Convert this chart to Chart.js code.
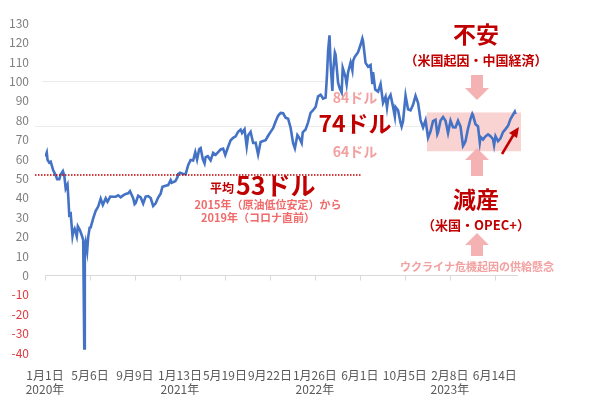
<!DOCTYPE html>
<html>
<head>
<meta charset="utf-8">
<script src="https://cdn.jsdelivr.net/npm/chart.js@4"></script>
<style>
  html, body { margin: 0; padding: 0; background: #fff; }
  #wrap { width: 600px; height: 395px; }
</style>
</head>
<body>
<div id="wrap"><canvas id="graph" width="600" height="395"></canvas></div>
<script>
// WTI原油先物（ドル/バレル）
const dates = [
  '2020-01-02','2020-01-06','2020-01-08','2020-01-13','2020-01-17','2020-01-24','2020-01-31','2020-02-04','2020-02-10','2020-02-14',
  '2020-02-20','2020-02-24','2020-02-28','2020-03-04','2020-03-06','2020-03-09','2020-03-13','2020-03-18','2020-03-20','2020-03-24',
  '2020-03-30','2020-04-02','2020-04-07','2020-04-09','2020-04-14','2020-04-17','2020-04-20','2020-04-21','2020-04-22','2020-04-24',
  '2020-04-28','2020-05-01','2020-05-05','2020-05-08','2020-05-15','2020-05-22','2020-05-29','2020-06-05','2020-06-11','2020-06-19',
  '2020-06-24','2020-07-02','2020-07-10','2020-07-17','2020-07-24','2020-07-31','2020-08-07','2020-08-14','2020-08-21','2020-08-26',
  '2020-09-04','2020-09-08','2020-09-11','2020-09-18','2020-09-25','2020-10-02','2020-10-09','2020-10-16','2020-10-23','2020-10-30',
  '2020-11-06','2020-11-13','2020-11-20','2020-11-25','2020-12-04','2020-12-11','2020-12-18','2020-12-21','2020-12-31',
  '2021-01-06','2021-01-08','2021-01-13','2021-01-22','2021-01-29','2021-02-05','2021-02-12','2021-02-19','2021-02-25','2021-03-02',
  '2021-03-08','2021-03-12','2021-03-18','2021-03-23','2021-03-26','2021-04-01','2021-04-09','2021-04-16','2021-04-23','2021-04-30',
  '2021-05-07','2021-05-14','2021-05-20','2021-05-28','2021-06-04','2021-06-11','2021-06-18','2021-06-25','2021-07-02','2021-07-06',
  '2021-07-13','2021-07-19','2021-07-23','2021-07-30','2021-08-06','2021-08-13','2021-08-20','2021-08-27','2021-09-03','2021-09-10',
  '2021-09-17','2021-09-24','2021-10-01','2021-10-08','2021-10-15','2021-10-22','2021-10-29','2021-11-05','2021-11-12','2021-11-19',
  '2021-11-26','2021-12-01','2021-12-08','2021-12-14','2021-12-20','2021-12-23','2021-12-31',
  '2022-01-07','2022-01-14','2022-01-21','2022-01-28','2022-02-04','2022-02-11','2022-02-15','2022-02-18','2022-02-25','2022-03-01',
  '2022-03-04','2022-03-08','2022-03-11','2022-03-16','2022-03-18','2022-03-23','2022-03-25','2022-04-01','2022-04-06','2022-04-11',
  '2022-04-14','2022-04-22','2022-04-25','2022-04-29','2022-05-06','2022-05-11','2022-05-13','2022-05-17','2022-05-20','2022-05-27',
  '2022-06-03','2022-06-08','2022-06-10','2022-06-17','2022-06-24','2022-07-01','2022-07-06','2022-07-08','2022-07-14','2022-07-22',
  '2022-07-29','2022-08-05','2022-08-12','2022-08-16','2022-08-19','2022-08-26','2022-09-02','2022-09-07','2022-09-09','2022-09-16',
  '2022-09-23','2022-09-26','2022-09-30','2022-10-07','2022-10-14','2022-10-21','2022-10-28','2022-11-04','2022-11-11','2022-11-18',
  '2022-11-25','2022-12-02','2022-12-09','2022-12-16','2022-12-23','2022-12-30',
  '2023-01-04','2023-01-06','2023-01-13','2023-01-20','2023-01-27','2023-02-03','2023-02-10','2023-02-17','2023-02-24','2023-03-03',
  '2023-03-10','2023-03-17','2023-03-20','2023-03-24','2023-03-31','2023-04-07','2023-04-12','2023-04-14','2023-04-21','2023-04-28',
  '2023-05-03','2023-05-05','2023-05-12','2023-05-19','2023-05-26','2023-06-02','2023-06-09','2023-06-12','2023-06-16','2023-06-23',
  '2023-06-30','2023-07-07','2023-07-14','2023-07-21','2023-07-28','2023-08-04','2023-08-09','2023-08-11'
];
const wti = [
  61.18,63.27,59.61,58.08,58.54,54.19,51.56,49.61,49.57,52.05,
  53.78,51.43,44.76,46.78,41.28,31.13,31.73,20.37,22.43,24.01,
  20.09,25.32,23.63,22.76,20.11,18.27,-37.63,10.01,13.78,16.94,
  12.34,19.78,24.56,24.74,29.43,33.25,35.49,39.55,36.34,39.75,
  38.01,40.65,40.55,40.59,41.29,40.27,41.22,42.01,42.34,43.39,
  39.77,36.76,37.33,41.11,40.25,37.05,40.60,40.88,39.85,35.79,
  37.14,40.13,42.15,45.71,46.26,46.57,49.10,47.74,48.52,
  50.63,52.24,52.91,52.27,52.20,56.85,59.47,59.24,63.53,59.75,
  65.05,65.61,60.00,57.76,60.97,61.45,59.32,63.13,62.14,63.58,
  64.90,65.37,62.05,66.32,69.62,70.91,71.64,74.05,75.16,73.37,
  75.25,66.42,72.07,73.95,68.28,68.44,62.32,68.74,69.29,69.72,
  71.97,73.98,75.88,79.35,82.28,83.76,83.57,81.27,80.79,76.10,
  68.15,65.57,72.36,70.73,68.23,73.79,75.21,
  78.90,83.82,85.14,86.82,92.31,93.10,92.07,91.07,91.59,103.41,
  115.68,123.70,109.33,95.04,104.70,114.93,113.90,99.27,96.23,94.29,
  106.95,102.07,98.54,104.69,109.77,105.71,110.49,112.40,113.23,115.07,
  118.87,122.11,120.67,109.56,107.62,108.43,98.53,104.79,95.78,94.70,
  98.62,89.01,92.09,86.53,90.77,93.06,86.87,81.94,86.79,85.11,
  78.74,76.71,79.49,92.64,85.61,85.05,87.90,92.61,88.96,80.08,
  76.28,79.98,71.02,74.29,79.56,80.26,
  72.84,73.77,79.86,81.64,79.68,73.39,79.72,76.34,76.32,79.68,
  76.68,66.74,67.64,69.26,75.67,80.70,83.26,82.52,77.87,76.78,
  68.60,71.34,70.04,71.69,72.67,71.74,70.17,67.12,71.78,69.16,
  70.64,73.86,75.42,77.07,80.58,82.82,84.40,83.19
];
// 軸ラベル（2020/1/1からの経過日数）
const tickDays = [0, 126, 252, 378, 504, 630, 756, 882, 1008, 1134, 1260];
const tickDates = ['1月1日','5月6日','9月9日','1月13日','5月19日','9月22日','1月26日','6月1日','10月5日','2月8日','6月14日'];
const tickYears = ['2020年','','','2021年','','','2022年','','','2023年',''];
const avgPrev = 53;      // 2015〜2019年平均
const avgNow = 74;       // 現在のレンジ中心
const rangeHigh = 84;
const rangeLow = 64;

const dayOf = s => {
    const p = s.split('-').map(Number);
    return (Date.UTC(p[0], p[1] - 1, p[2]) - Date.UTC(2020, 0, 1)) / 86400000;
};
const points = dates.map((d, i) => ({ x: dayOf(d), y: wti[i] }));

const RED = '#C00000';
const SALMON = '#F06A6A';
const PINK = '#F2A0A0';

const arrowBlock = (ctx, cx, from, to, color) => {
    // from: shaft end, to: tip
    const dir = to > from ? 1 : -1;
    const headStart = to - dir * 12;
    ctx.fillStyle = color;
    ctx.beginPath();
    ctx.moveTo(cx - 6, from);
    ctx.lineTo(cx + 6, from);
    ctx.lineTo(cx + 6, headStart);
    ctx.lineTo(cx + 12, headStart);
    ctx.lineTo(cx, to);
    ctx.lineTo(cx - 12, headStart);
    ctx.lineTo(cx - 6, headStart);
    ctx.closePath();
    ctx.fill();
};

const notes = {
    id: 'notes',
    beforeDatasetsDraw(chart) {
        const ctx = chart.ctx, x = chart.scales.x, y = chart.scales.y;
        ctx.save();
        // faint guide lines
        ctx.strokeStyle = '#EBEBEB';
        ctx.lineWidth = 1;
        ctx.beginPath();
        ctx.moveTo(42, Math.round(y.getPixelForValue(100)) + 0.5);
        ctx.lineTo(325, Math.round(y.getPixelForValue(100)) + 0.5);
        ctx.moveTo(35, 126.5);
        ctx.lineTo(425, 126.5);
        ctx.stroke();
        // tick marks on the zero line
        const y0 = Math.round(y.getPixelForValue(0)) + 0.5;
        ctx.strokeStyle = '#D9D9D9';
        ctx.beginPath();
        tickDays.forEach(d => {
            const px = Math.round(x.getPixelForValue(d)) + 0.5;
            ctx.moveTo(px, y0);
            ctx.lineTo(px, y0 + 5);
        });
        ctx.stroke();
        // range box
        const bx = x.getPixelForValue(1070);
        const by = y.getPixelForValue(rangeHigh);
        ctx.fillStyle = '#F9D2D2';
        ctx.fillRect(bx, by, 521 - bx, y.getPixelForValue(rangeLow) - by);
        ctx.restore();
    },
    afterDatasetsDraw(chart) {
        const ctx = chart.ctx, y = chart.scales.y;
        ctx.save();
        // previous average line
        const ay = y.getPixelForValue(avgPrev - 1.2);
        ctx.strokeStyle = RED;
        ctx.lineWidth = 1.5;
        ctx.setLineDash([1.5, 1.5]);
        ctx.beginPath();
        ctx.moveTo(35, ay);
        ctx.lineTo(362, ay);
        ctx.stroke();
        ctx.setLineDash([]);

        const F = "'Noto Sans CJK JP', sans-serif";
        ctx.textBaseline = 'middle';
        ctx.textAlign = 'left';
        ctx.fillStyle = RED;
        ctx.font = 'bold 12px ' + F;
        ctx.fillText('平均', 210, 188);
        ctx.font = 'bold 25px ' + F;
        ctx.fillText(avgPrev + 'ドル', 236, 185);

        ctx.textAlign = 'center';
        ctx.fillStyle = SALMON;
        ctx.font = 'bold 11px ' + F;
        ctx.fillText('2015年（原油低位安定）から', 268, 205);
        ctx.fillText('2019年（コロナ直前）', 258, 218);

        ctx.fillStyle = PINK;
        ctx.font = 'bold 14px ' + F;
        ctx.fillText(rangeHigh + 'ドル', 355, 98);
        ctx.fillText(rangeLow + 'ドル', 355, 152);
        ctx.fillStyle = RED;
        ctx.font = 'bold 23px ' + F;
        ctx.fillText(avgNow + 'ドル', 355, 123);

        ctx.font = 'bold 23px ' + F;
        ctx.fillText('不安', 476, 34);
        ctx.font = 'bold 13px ' + F;
        ctx.fillText('（米国起因・中国経済）', 476, 60);
        ctx.font = 'bold 23px ' + F;
        ctx.fillText('減産', 476, 199);
        ctx.font = 'bold 13px ' + F;
        ctx.fillText('（米国・OPEC+）', 476, 225);
        ctx.fillStyle = PINK;
        ctx.font = 'bold 11px ' + F;
        ctx.fillText('ウクライナ危機起因の供給懸念', 477, 267);

        arrowBlock(ctx, 477, 75, 100, '#F4B2B2');
        arrowBlock(ctx, 477, 176, 148, '#F4B2B2');
        arrowBlock(ctx, 477, 256, 233, '#F4B2B2');

        // small red arrow
        ctx.strokeStyle = RED;
        ctx.fillStyle = RED;
        ctx.lineWidth = 2.5;
        ctx.beginPath();
        ctx.moveTo(502, 154);
        ctx.lineTo(514, 134);
        ctx.stroke();
        ctx.beginPath();
        ctx.moveTo(519, 127);
        ctx.lineTo(509, 133);
        ctx.lineTo(517, 138);
        ctx.closePath();
        ctx.fill();
        ctx.restore();
    }
};

Chart.defaults.font.family = "'Noto Sans CJK JP', sans-serif";

new Chart(document.getElementById('graph'), {
    type: 'line',
    data: {
        datasets: [{
            label: 'WTI',
            data: points,
            borderColor: '#4472C4',
            borderWidth: 2.6,
            pointRadius: 0,
            tension: 0
        }]
    },
    options: {
        responsive: false,
        animation: false,
        layout: { padding: { left: 8, right: 82, top: 2, bottom: 0 } },
        plugins: { legend: { display: false }, tooltip: { enabled: false } },
        scales: {
            x: {
                type: 'linear',
                min: 0,
                max: 1325,
                afterBuildTicks: s => { s.ticks = tickDays.map(v => ({ value: v })); },
                afterFit: s => { s.height = 42; },
                grid: { display: false },
                border: { display: false },
                ticks: {
                    autoSkip: false,
                    maxRotation: 0,
                    padding: 7,
                    color: '#595959',
                    font: { size: 12 },
                    callback: (v, i) => tickYears[i] ? [tickDates[i], tickYears[i]] : tickDates[i]
                }
            },
            y: {
                min: -40,
                max: 130,
                afterFit: s => { s.width = 37; },
                grid: {
                    drawTicks: false,
                    color: c => c.tick && c.tick.value === 0 ? '#D9D9D9' : 'rgba(0,0,0,0)'
                },
                border: { display: false },
                ticks: {
                    stepSize: 10,
                    padding: 16,
                    font: { size: 12 },
                    color: c => c.tick.value < 0 ? '#E0393E' : '#7F7F7F'
                }
            }
        }
    },
    plugins: [notes]
});
</script>
</body>
</html>
